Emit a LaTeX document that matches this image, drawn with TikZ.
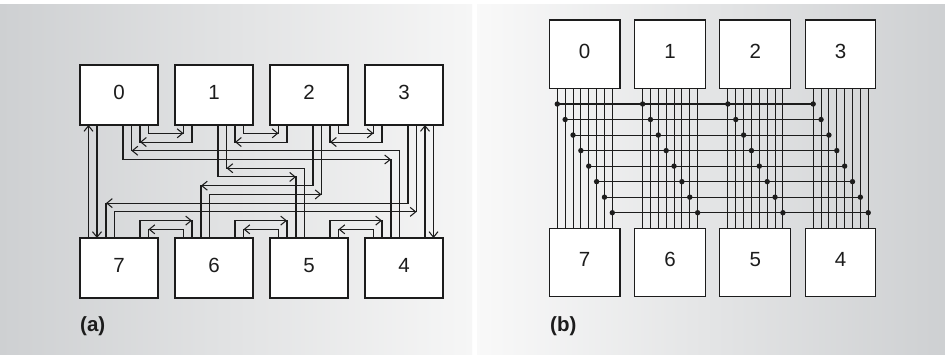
\documentclass[tikz,border=0pt]{standalone}
\usepackage{fontspec}
\setmainfont{Liberation Sans}
\usetikzlibrary{arrows.meta,calc}
\definecolor{bgdark}{RGB}{206,208,210}
\definecolor{bglight}{RGB}{246,246,246}
\definecolor{ink}{RGB}{28,28,28}
\tikzset{
  box/.style={draw=ink, line width=1.1pt, fill=white, minimum width=78pt, minimum height=60pt,
    anchor=north west, outer sep=0pt, inner sep=0pt, font=\fontsize{20.5}{24}\selectfont,
    text=ink, text height=14pt, text depth=6pt},
  bbox/.style={box, minimum width=70.7pt, minimum height=68.4pt},
  wire/.style={draw=ink, line width=1.05pt},
  tipx/.style={wire, -{Straight Barb[length=5.5pt,width=9pt]}},
  dotx/.style={fill=ink, draw=none},
  panellabel/.style={font=\fontsize{20.5}{24}\selectfont\bfseries, text=ink, anchor=west, inner sep=0pt},
}
\newcommand\linkab[5]{%
  \coordinate (#5) at (#2 |- #3);
  \draw[wire] (#1) |- (#5) -- (#2);
  \draw[tipx] ($(#5)+(#4,0)$) -- (#5);
}
\begin{document}
\begin{tikzpicture}[x=1pt,y=-1pt]
\useasboundingbox (0,0) rectangle (945,356);
\fill[white] (0,0) rectangle (945,356);
\shade[left color=bgdark, right color=bglight] (0,4) rectangle (472,354);
\shade[left color=bglight!70!white, right color=bgdark] (477,4) rectangle (945,354);

% ---------- (a) ----------
\foreach \i/\x in {0/80,1/175,2/270,3/365} \node[box] (n\i) at (\x,65) {\i};
\foreach \i/\x in {7/80,6/175,5/270,4/365} \node[box] (n\i) at (\x,238) {\i};

\foreach \i in {0,1,2,3} {
  \foreach \k/\o in {1/8.5,2/17,3/43,4/51.5,5/60,6/68.5}
    \coordinate (p\i\k) at ([xshift=\o pt]n\i.south west);
}
\foreach \i in {4,5,6,7} {
  \foreach \k/\o in {1/8.5,2/17,3/26,4/34.5,5/60,6/68.5}
    \coordinate (p\i\k) at ([xshift=\o pt]n\i.north west);
}
\foreach \k [evaluate=\k as \yy using 133.3+8.73*\k] in {0,...,11}
  \coordinate (L\k) at (0,\yy);

% verticals
\draw[tipx] (p71) -- (p01);
\draw[tipx] (p02) -- (p72);
\draw[tipx] (p45) -- (p35);
\draw[tipx] (p36) -- (p46);

% top ring
\linkab{p06}{p11}{L0}{-6}{c01}
\linkab{p12}{p05}{L1}{6}{c10}
\linkab{p16}{p21}{L0}{-6}{c12}
\linkab{p22}{p15}{L1}{6}{c21}
\linkab{p26}{p31}{L0}{-6}{c23}
\linkab{p32}{p25}{L1}{6}{c32}
% chords
\linkab{p03}{p43}{L3}{-6}{c04}
\linkab{p44}{p04}{L2}{6}{c40}
\linkab{p13}{p53}{L5}{-6}{c15}
\linkab{p54}{p14}{L4}{6}{c51}
\linkab{p23}{p63}{L6}{6}{c26}
\linkab{p64}{p24}{L7}{-6}{c62}
\linkab{p33}{p73}{L8}{6}{c37}
\linkab{p74}{p34}{L9}{-6}{c73}
% bottom ring
\linkab{p75}{p62}{L10}{-6}{c76}
\linkab{p61}{p76}{L11}{6}{c67}
\linkab{p65}{p52}{L10}{-6}{c65}
\linkab{p51}{p66}{L11}{6}{c56}
\linkab{p55}{p42}{L10}{-6}{c54}
\linkab{p41}{p56}{L11}{6}{c45}

\node[panellabel] (la) at (80,326) {(a)};

% ---------- (b) ----------
\foreach \i/\x in {0/549.3,1/634.6,2/719.9,3/805.2} \node[bbox] (m\i) at (\x,20) {\i};
\foreach \i/\x in {7/549.3,6/634.6,5/719.9,4/805.2} \node[bbox] (m\i) at (\x,228.3) {\i};

\foreach \c/\t/\b in {0/m0/m7,1/m1/m6,2/m2/m5,3/m3/m4} {
  \foreach \k [evaluate=\k as \o using 8+7.86*\k] in {0,...,7} {
    \coordinate (t\c\k) at ([xshift=\o pt]\t.south west);
    \coordinate (u\c\k) at ([xshift=\o pt]\b.north west);
    \draw[wire] (t\c\k) -- (u\c\k);
  }
}
\foreach \k [evaluate=\k as \yy using 104+15.53*\k] in {0,...,7} {
  \coordinate (r\k) at (0,\yy);
  \draw[wire] (t0\k |- r\k) -- (t3\k |- r\k);
  \foreach \c in {0,1,2,3} \fill[dotx] (t\c\k |- r\k) circle[radius=2.7pt];
}

\node[panellabel] (lb) at (550,326) {(b)};
\end{tikzpicture}
\end{document}
